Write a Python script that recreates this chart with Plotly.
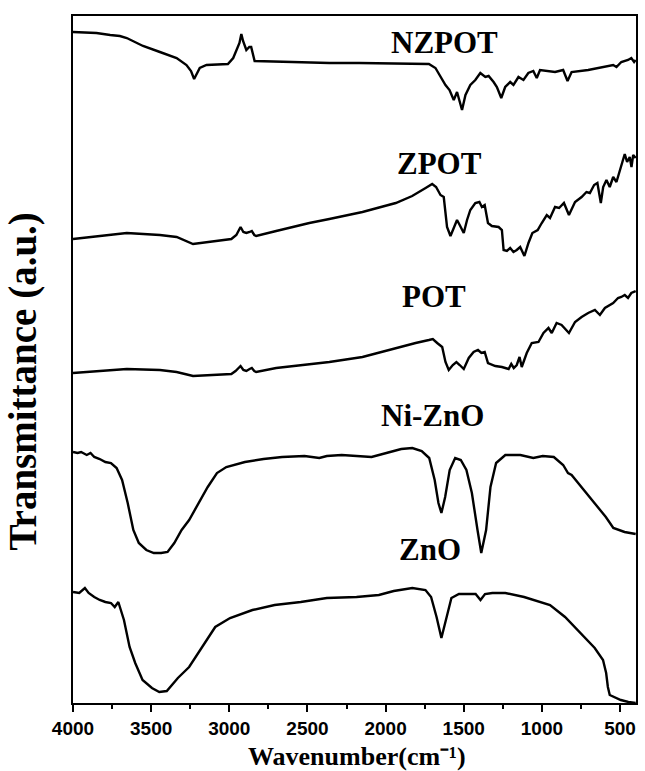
import plotly.graph_objects as go

# ---------------- data (wavenumber in cm-1, transmittance in a.u., offset stacked) ----------------
nzpot_w = [4000, 3850, 3762, 3700, 3656, 3600, 3552, 3444, 3337, 3274, 3245, 3225, 3205, 3189, 3146,
           3009, 2975, 2955, 2935, 2923, 2912, 2891, 2872, 2860, 2848, 2838, 2596, 2360, 2169,
           1723, 1681, 1649, 1617, 1591, 1564, 1543, 1528, 1511, 1489, 1458, 1426, 1394, 1362, 1341,
           1309, 1288, 1260, 1235, 1203, 1182, 1150, 1118, 1087, 1055, 1033, 1012, 916, 864, 836, 810,
           704, 597, 544, 523, 492, 449, 428, 410, 400]
nzpot_t = [671, 670, 668, 667, 665, 661, 657, 651, 645, 638, 632, 624, 630, 635, 638,
           639, 645, 652, 660, 669, 662, 653, 656, 656, 647, 642, 641, 640, 640,
           639, 635, 626, 618, 613, 603, 611, 603, 593, 608, 618, 623, 630, 626, 627,
           621, 616, 605, 616, 621, 618, 626, 623, 630, 632, 625, 633, 631, 633, 622, 631,
           633, 636, 638, 636, 641, 643, 645, 641, 643]

zpot_w = [4000, 3762, 3656, 3444, 3337, 3232, 3125, 2987, 2955, 2940, 2928, 2910, 2891, 2870, 2856,
          2840, 2828, 2700, 2488, 2360, 2148, 1935, 1830, 1744, 1702, 1677, 1649, 1628, 1607, 1585,
          1564, 1543, 1526, 1500, 1479, 1458, 1426, 1400, 1384, 1366, 1345, 1320, 1277, 1256, 1245,
          1224, 1203, 1182, 1161, 1139, 1112, 1086, 1061, 1027, 1001, 969, 948, 916, 890, 859, 827,
          788, 746, 715, 693, 666, 645, 623, 608, 587, 566, 544, 523, 502, 492, 470, 455, 438, 427,
          416, 400]
zpot_t = [464, 468, 470, 468, 466, 459, 461, 464, 468, 472, 476, 471, 470, 471, 472,
          468, 467, 472, 480, 484, 491, 500, 507, 515, 519, 516, 508, 506, 476, 467,
          475, 483, 478, 470, 483, 493, 500, 501, 496, 498, 480, 477, 476, 473, 453,
          452, 455, 451, 453, 456, 447, 460, 470, 473, 480, 488, 485, 496, 495, 500, 488,
          501, 506, 511, 510, 518, 520, 500, 516, 523, 516, 526, 521, 533, 538, 549, 541, 546, 536,
          548, 545]

pot_w = [4000, 3762, 3656, 3444, 3337, 3232, 3125, 2987, 2960, 2940, 2928, 2910, 2891, 2870, 2856,
         2840, 2828, 2700, 2488, 2360, 2148, 1935, 1808, 1723, 1698, 1670, 1638, 1617, 1596, 1570,
         1547, 1526, 1500, 1468, 1437, 1409, 1387, 1366, 1345, 1298, 1256, 1213, 1196, 1180, 1161,
         1143, 1129, 1097, 1065, 1022, 990, 958, 937, 906, 874, 827, 788, 746, 704, 661, 629, 597,
         566, 544, 513, 492, 470, 449, 428, 400]
pot_t = [330, 333, 334, 333, 331, 327, 328, 329, 332, 335, 337, 333, 332, 334, 335,
         332, 331, 335, 339, 341, 346, 355, 360, 363, 364, 360, 356, 341, 333, 338,
         341, 338, 334, 345, 351, 353, 350, 351, 340, 337, 336, 334, 339, 335, 338,
         346, 336, 350, 360, 361, 370, 375, 370, 380, 378, 370, 381, 386, 390, 393, 388, 395,
         398, 400, 405, 406, 408, 405, 410, 412]

nizno_w = [4000, 3971, 3948, 3912, 3888, 3864, 3829, 3793, 3757, 3721, 3686, 3650, 3614, 3579, 3531,
           3483, 3436, 3395, 3352, 3305, 3257, 3198, 3138, 3079, 3019, 2900, 2781, 2662, 2519, 2424,
           2376, 2281, 2186, 2090, 1995, 1900, 1829, 1769, 1721, 1686, 1662, 1643, 1619, 1590, 1555,
           1519, 1483, 1448, 1412, 1388, 1357, 1329, 1293, 1234, 1138, 1055, 995, 924, 864, 833, 810,
           757, 662, 591, 543, 471, 400]
nizno_t = [251, 250, 251, 248, 250, 246, 244, 241, 240, 235, 223, 200, 173, 160, 153,
           150, 150, 151, 160, 173, 183, 200, 216, 230, 236, 241, 244, 246, 247, 245,
           247, 248, 247, 246, 250, 254, 255, 252, 245, 223, 200, 190, 206, 233, 245,
           243, 233, 210, 173, 150, 173, 216, 240, 248, 248, 245, 247, 246, 238, 230, 228,
           218, 200, 186, 175, 171, 169]

zno_w = [4000, 3960, 3924, 3900, 3864, 3829, 3793, 3757, 3733, 3710, 3674, 3638, 3602, 3555, 3495,
         3448, 3400, 3329, 3257, 3186, 3090, 2995, 2852, 2710, 2543, 2376, 2186, 2043, 1948, 1829,
         1745, 1709, 1674, 1643, 1614, 1579, 1531, 1424, 1393, 1364, 1317, 1234, 1114, 995, 948,
         852, 757, 662, 609, 589, 578, 566, 495, 447, 400]
zno_t = [111, 110, 115, 110, 106, 103, 101, 100, 96, 101, 83, 56, 40, 23, 15,
         11, 12, 25, 36, 53, 76, 85, 93, 98, 101, 105, 106, 108, 112, 115,
         113, 106, 86, 65, 83, 105, 109, 109, 103, 109, 110, 110, 106, 100, 98,
         86, 71, 55, 43, 30, 16, 8, 3, 1, 0]

sample_names = ["NZPOT", "ZPOT", "POT", "Ni-ZnO", "ZnO"]
label_w = [1621, 1653, 1692, 1698, 1717]
label_t = [661, 540, 407, 288, 154]

x_ticks = [4000, 3500, 3000, 2500, 2000, 1500, 1000, 500]

# ---------------- figure ----------------
fig = go.Figure()
series = [(nzpot_w, nzpot_t), (zpot_w, zpot_t), (pot_w, pot_t), (nizno_w, nizno_t), (zno_w, zno_t)]
for name, (w, t) in zip(sample_names, series):
    fig.add_trace(go.Scatter(x=w, y=t, mode="lines", name=name,
                             line=dict(color="black", width=2.4), showlegend=False))

for name, lw, lt in zip(sample_names, label_w, label_t):
    fig.add_annotation(x=lw, y=lt, text=name, showarrow=False,
                       font=dict(family="Liberation Serif", size=31, color="black", weight="bold"),
                       xanchor="center", yanchor="middle")

# axis titles as annotations so they sit exactly where the reference has them
fig.add_annotation(xref="paper", yref="paper", x=0, y=0.5, xanchor="center", yanchor="middle",
                   xshift=-51, yshift=-22, textangle=-90, showarrow=False,
                   text="Transmittance (a.u.)",
                   font=dict(family="Liberation Serif", size=39, color="black", weight="bold"))
fig.add_annotation(xref="paper", yref="paper", x=0.505, y=0, xanchor="center", yanchor="top",
                   yshift=-38, showarrow=False, borderpad=0,
                   text="Wavenumber(cm\u207b\u00b9)",
                   font=dict(family="Liberation Serif", size=26, color="black", weight="bold"))

fig.update_layout(
    width=645, height=771,
    margin=dict(l=73, r=7, t=16, b=68),
    paper_bgcolor="white", plot_bgcolor="white",
    xaxis=dict(range=[4000, 398], tickvals=x_ticks, ticktext=[str(v) for v in x_ticks],
               ticks="outside", ticklen=7, tickwidth=2, tickcolor="black",
               minor=dict(dtick=250, ticks="outside", ticklen=4, tickwidth=2, tickcolor="black"),
               showline=True, linecolor="black", linewidth=2, mirror=True,
               showgrid=False, zeroline=False,
               tickfont=dict(family="Liberation Sans", size=19, color="black", weight="bold")),
    yaxis=dict(range=[0, 687], showticklabels=False, ticks="",
               showline=True, linecolor="black", linewidth=2, mirror=True,
               showgrid=False, zeroline=False),
)

# remove the default page margin so the 645x771 figure fills the window exactly
fig.write_html("out.html", config={"displayModeBar": False},
               post_script="document.body.style.margin='0';document.body.style.overflow='hidden';")
